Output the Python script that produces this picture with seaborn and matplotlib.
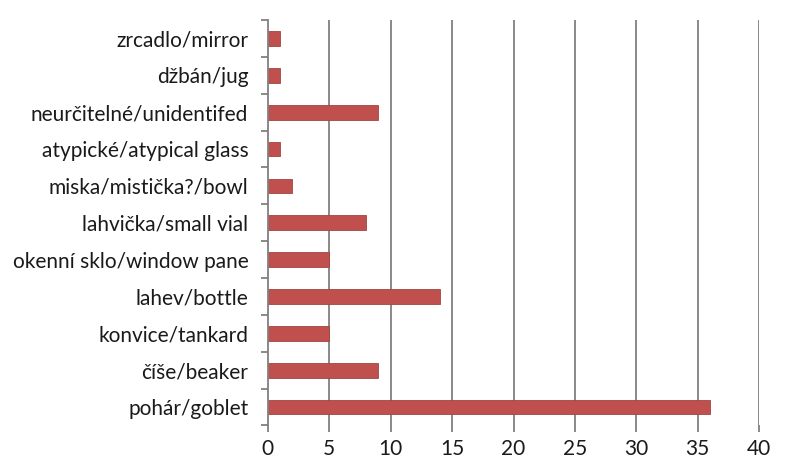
import numpy as np
import pandas as pd
import matplotlib.pyplot as plt
import seaborn as sns

# Kategorie (shora dolů) a počty
kategorie = [
    "zrcadlo/mirror",
    "džbán/jug",
    "neurčitelné/unidentifed",
    "atypické/atypical glass",
    "miska/mistička?/bowl",
    "lahvička/small vial",
    "okenní sklo/window pane",
    "lahev/bottle",
    "konvice/tankard",
    "číše/beaker",
    "pohár/goblet",
]
pocty = [1, 1, 9, 1, 2, 8, 5, 14, 5, 9, 36]
x_ticks = [0, 5, 10, 15, 20, 25, 30, 35, 40]

df = pd.DataFrame({"kategorie": kategorie, "pocet": pocty})

sns.set_style("white")
plt.rcParams["font.family"] = ["Lato", "DejaVu Sans"]

fig = plt.figure(figsize=(7.9, 4.65), dpi=100)
ax = fig.add_axes([0.339, 0.085, 0.622, 0.872])

sns.barplot(data=df, y="kategorie", x="pocet", orient="h", color="#c0504d",
            saturation=1, width=0.4, edgecolor="#a04542", linewidth=0.6, ax=ax)

ax.set_xlim(0, 40)
ax.set_ylim(len(kategorie) - 0.5, -0.5)
ax.set_xlabel("")
ax.set_ylabel("")

# vertikální mřížka
for x in x_ticks[1:]:
    ax.axvline(x, color="#808080", linewidth=1.3, zorder=0)

for s in ["top", "right", "bottom"]:
    ax.spines[s].set_visible(False)
ax.spines["left"].set_color("#808080")
ax.spines["left"].set_linewidth(1.3)

# značky na ose y mezi kategoriemi
ax.set_yticks(np.arange(-0.5, len(kategorie), 1), minor=True)
ax.tick_params(axis="y", which="major", length=0, labelsize=15, pad=14, colors="#1a1a1a")
ax.tick_params(axis="y", which="minor", length=5, width=1.3, color="#808080", left=True)
ax.set_xticks(x_ticks)
ax.tick_params(axis="x", which="major", length=5, width=1.3, color="#808080",
               bottom=True, labelsize=15, pad=5, labelcolor="#1a1a1a")
ax.grid(False)

fig.savefig("out.png", dpi=100)
